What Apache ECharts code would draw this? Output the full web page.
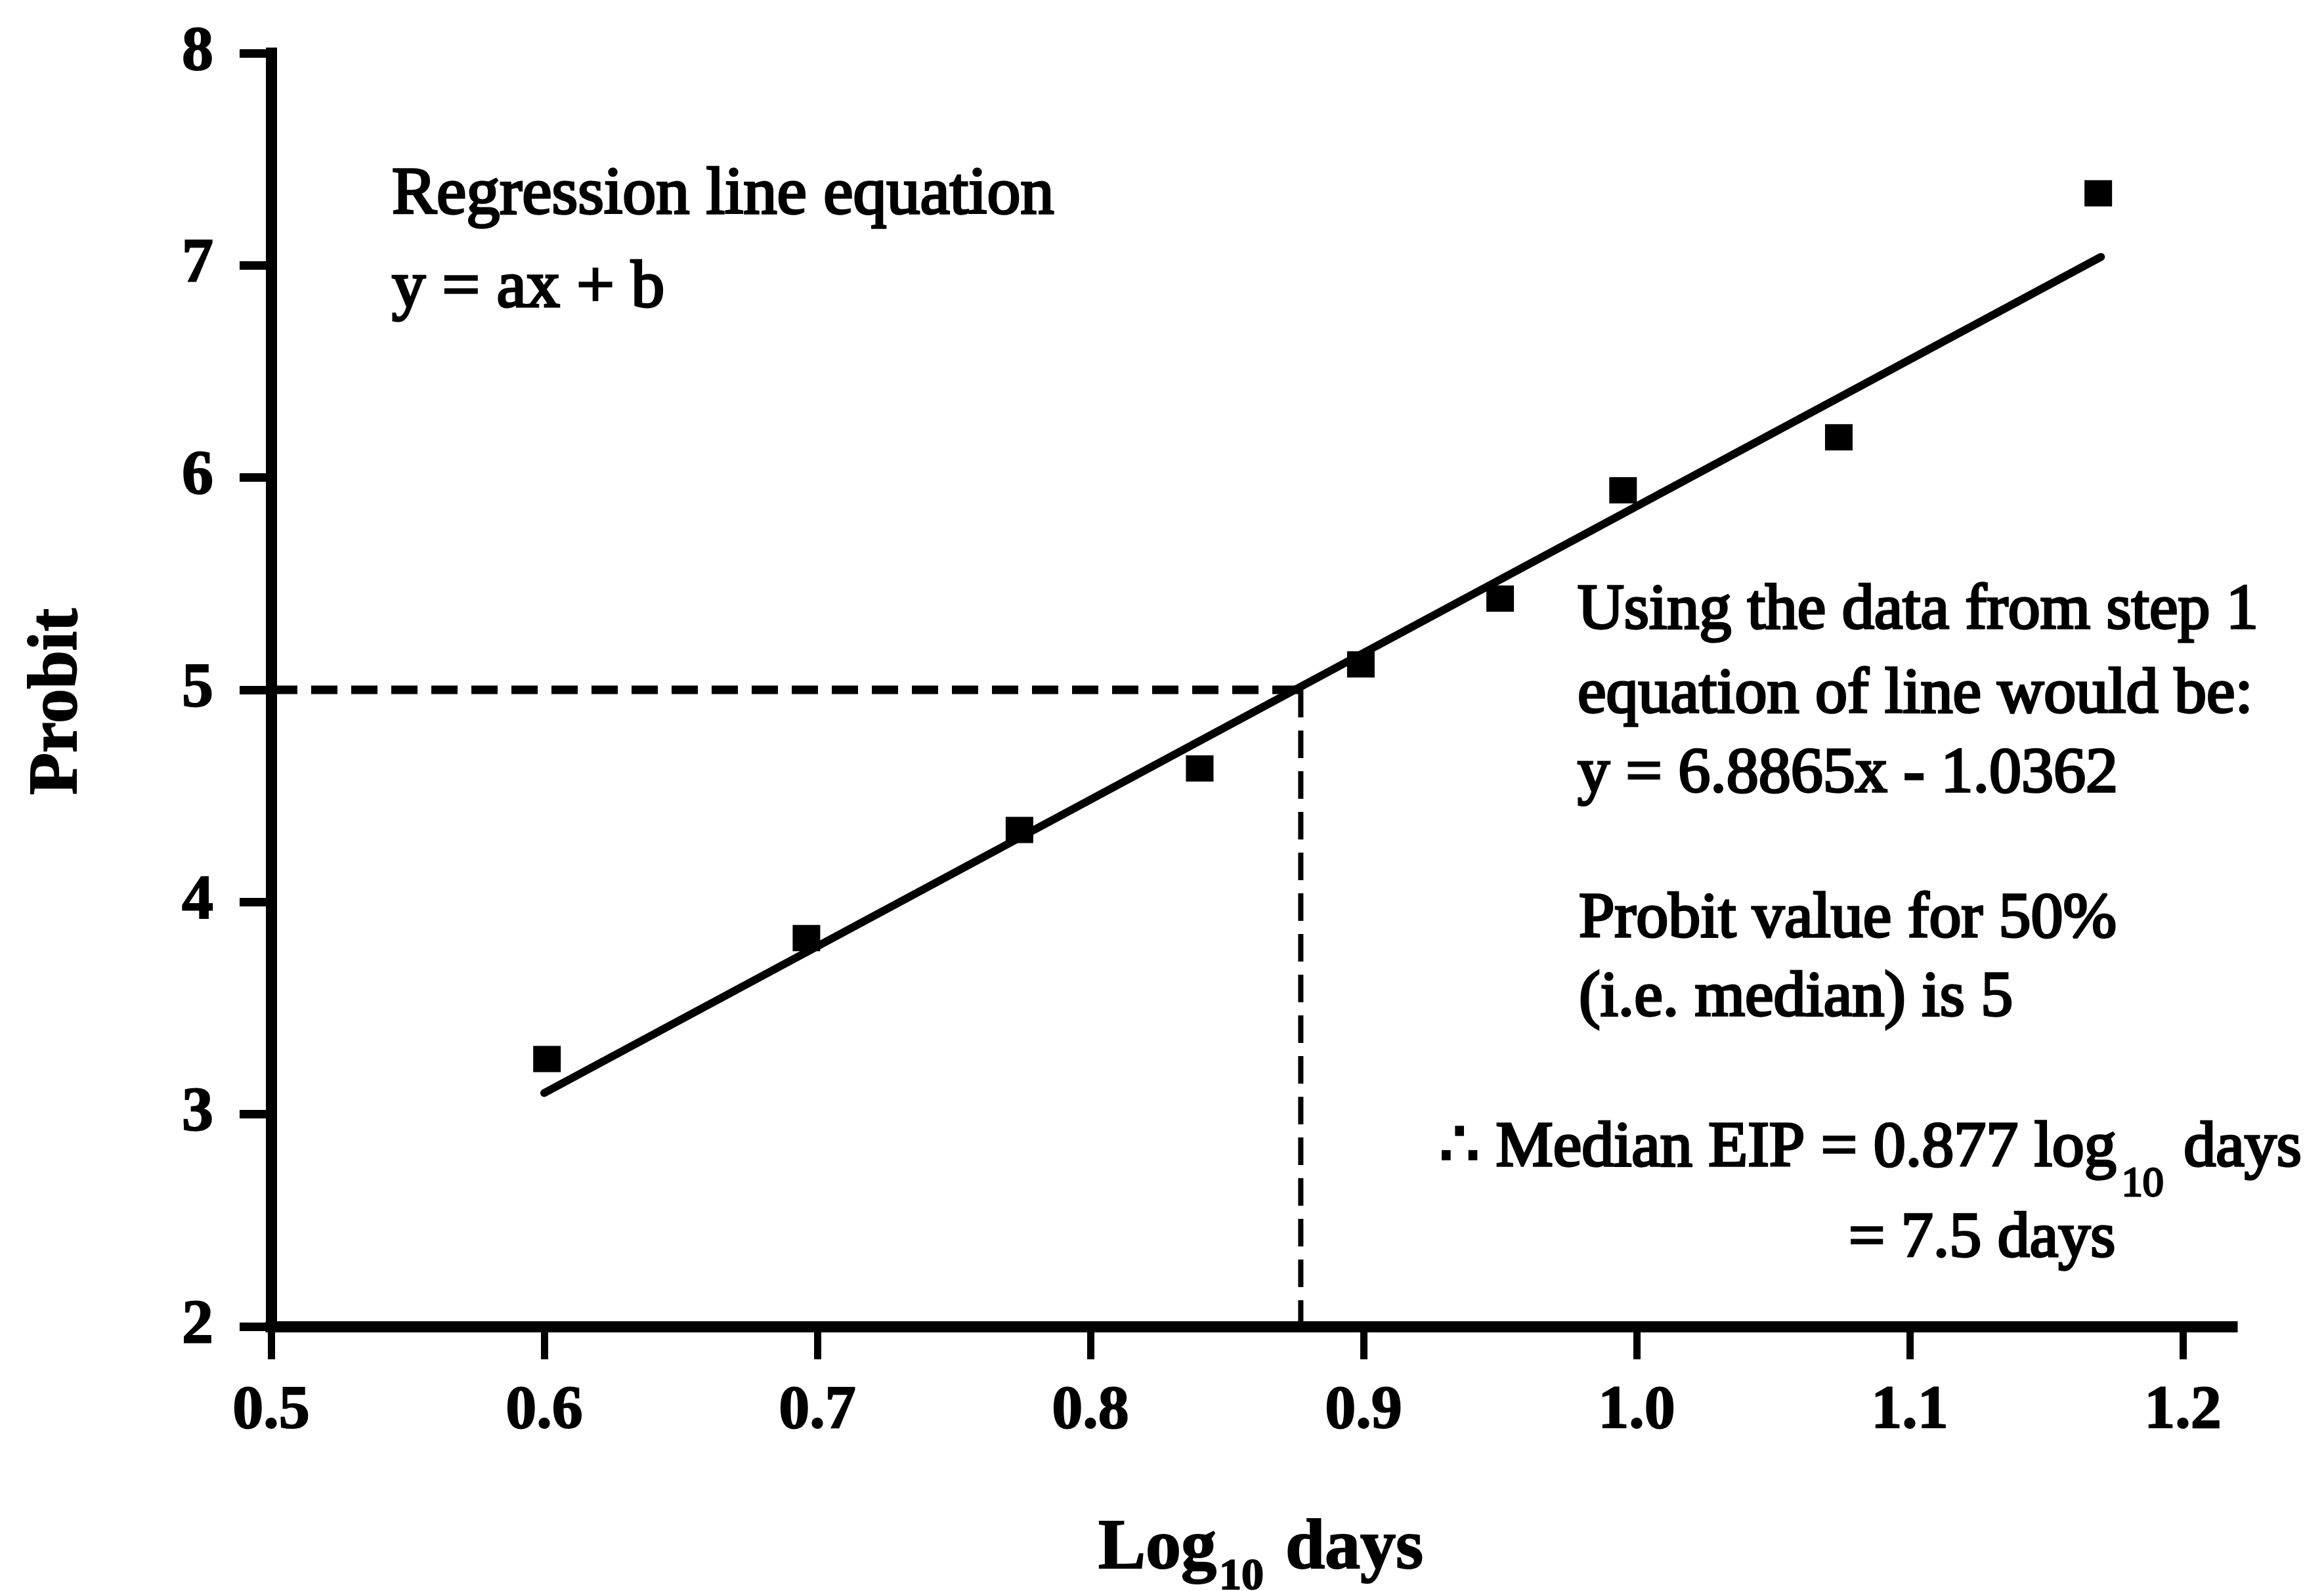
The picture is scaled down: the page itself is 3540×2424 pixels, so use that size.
<!DOCTYPE html>
<html>
<head>
<meta charset="utf-8">
<script src="https://cdn.jsdelivr.net/npm/echarts@6/dist/echarts.min.js"></script>
<style>
  html, body { margin: 0; padding: 0; background: #ffffff; }
  #chart { width: 3540px; height: 2424px; }
</style>
</head>
<body>
<div id="chart"></div>
<script>
// Observed probit of infected vectors against log10 of days after feeding
const logDays = [0.601, 0.696, 0.774, 0.840, 0.899, 0.950, 0.995, 1.074, 1.169];
const probit  = [3.26, 3.83, 4.34, 4.63, 5.12, 5.43, 5.94, 6.19, 7.34];

// Fitted regression line, end points
const regressionX = [0.600, 1.170];
const regressionY = [3.10, 7.04];

// Median read-off: probit 5 meets the line at 0.877 log10 days
const medianLogDays = 0.877;
const medianProbit = 5;

// Axis ticks
const xTickValues = [0.5, 0.6, 0.7, 0.8, 0.9, 1.0, 1.1, 1.2];
const yTickValues = [2, 3, 4, 5, 6, 7, 8];

// Annotation text
const headLines = ['Regression line equation', 'y = ax + b'];
const stepLines = ['Using the data from step 1', 'equation of line would be:', 'y = 6.8865x - 1.0362'];
const probitLines = ['Probit value for 50%', '(i.e. median) is 5'];
const resultMain = ['\u2234 Median EIP = 0.877 log', '10', ' days'];
const resultDays = '= 7.5 days';

const FONT = '"Liberation Serif", "DejaVu Serif", "Times New Roman", serif';
const INK = '#000000';

const chart = echarts.init(document.getElementById('chart'), null, { renderer: 'canvas' });

function textLine(str, x, baseline, size) {
  // lineHeight 160, drawn with a middle baseline: alphabetic baseline sits 80 + 0.3375*size below the top
  return {
    type: 'text', x: x, y: baseline - (80 + 0.3375 * size), z: 10,
    style: {
      text: str, fill: INK, fontFamily: FONT, fontSize: size,
      stroke: INK, lineWidth: 3.5,
      lineHeight: 160, align: 'left', verticalAlign: 'top'
    }
  };
}

const graphics = [];
headLines.forEach((t, i) => graphics.push(textLine(t, 597, [333, 475][i], 102)));
stepLines.forEach((t, i) => graphics.push(textLine(t, 2403, [964, 1092, 1213][i], 98)));
probitLines.forEach((t, i) => graphics.push(textLine(t, 2405, [1434, 1554][i], 98)));
graphics.push({
  type: 'text', x: 2192, y: 1783 - 113, z: 10,
  style: {
    text: '{m|' + resultMain[0] + '}{s|' + resultMain[1] + '}{m|' + resultMain[2] + '}',
    fill: INK, align: 'left', verticalAlign: 'top',
    rich: {
      m: { fontFamily: FONT, fontSize: 98, lineHeight: 160, fill: INK, stroke: INK, lineWidth: 3.5 },
      s: { fontFamily: FONT, fontSize: 64, lineHeight: 54, verticalAlign: 'top', padding: [103, 6, 0, 8], fill: INK, stroke: INK, lineWidth: 3 }
    }
  }
});
graphics.push(textLine(resultDays, 2816, 1921, 98));

const option = {
  backgroundColor: '#ffffff',
  animation: false,
  grid: { left: 413, right: 140, top: 81, bottom: 403, containLabel: false, outerBoundsMode: 'none' },
  xAxis: {
    type: 'value', min: 0.5, max: 1.218,
    splitLine: { show: false },
    axisLine: { show: true, onZero: false, lineStyle: { color: INK, width: 17, cap: 'square' } },
    axisTick: { show: true, inside: false, length: 50, customValues: xTickValues, lineStyle: { color: INK, width: 11 } },
    axisLabel: {
      show: true, margin: 83, customValues: xTickValues,
      formatter: v => v.toFixed(1),
      color: INK, fontFamily: FONT, fontWeight: 'bold', fontSize: 94,
      textBorderColor: INK, textBorderWidth: 2
    },
    name: '{m|Log}{s|10}{m| days}',
    nameLocation: 'middle', nameGap: 265,
    nameTextStyle: {
      padding: [0, 0, 0, 28],
      rich: {
        m: { fontFamily: FONT, fontWeight: 'bold', fontSize: 108, lineHeight: 150, color: INK, textBorderColor: INK, textBorderWidth: 2 },
        s: { fontFamily: FONT, fontWeight: 'bold', fontSize: 68, lineHeight: 66, verticalAlign: 'top', padding: [83, 6, 0, 4], color: INK, textBorderColor: INK, textBorderWidth: 2 }
      }
    }
  },
  yAxis: {
    type: 'value', min: yTickValues[0], max: yTickValues[yTickValues.length - 1], interval: 1,
    splitLine: { show: false },
    axisLine: { show: true, onZero: false, lineStyle: { color: INK, width: 17, cap: 'square' } },
    axisTick: { show: true, inside: false, length: 48, lineStyle: { color: INK, width: 13 } },
    axisLabel: {
      show: true, margin: 88, color: INK, fontFamily: FONT, fontWeight: 'bold', fontSize: 96,
      textBorderColor: INK, textBorderWidth: 2
    },
    name: 'Probit',
    nameLocation: 'middle', nameGap: 272,
    nameTextStyle: {
      color: INK, fontFamily: FONT, fontWeight: 'bold', fontSize: 105, padding: [0, 36, 0, 0],
      textBorderColor: INK, textBorderWidth: 2
    }
  },
  graphic: graphics,
  series: [
    {
      name: 'Regression line', type: 'line', symbol: 'none', z: 3,
      data: regressionX.map((x, i) => [x, regressionY[i]]),
      lineStyle: { color: INK, width: 12, cap: 'round' }
    },
    {
      name: 'Probit 5 guide', type: 'line', symbol: 'none', z: 2,
      data: [[xTickValues[0], medianProbit], [medianLogDays, medianProbit]],
      lineStyle: { color: INK, width: 13, type: [40, 21] }
    },
    {
      name: 'Median guide', type: 'line', symbol: 'none', z: 2,
      data: [[medianLogDays, medianProbit], [medianLogDays, yTickValues[0]]],
      lineStyle: { color: INK, width: 8, type: [42, 20] }
    },
    {
      name: 'Observed', type: 'scatter', symbol: 'rect', symbolSize: [42, 40], z: 5,
      data: logDays.map((x, i) => [x, probit[i]]),
      itemStyle: { color: INK, opacity: 1 }
    }
  ]
};

chart.setOption(option);
</script>
</body>
</html>
